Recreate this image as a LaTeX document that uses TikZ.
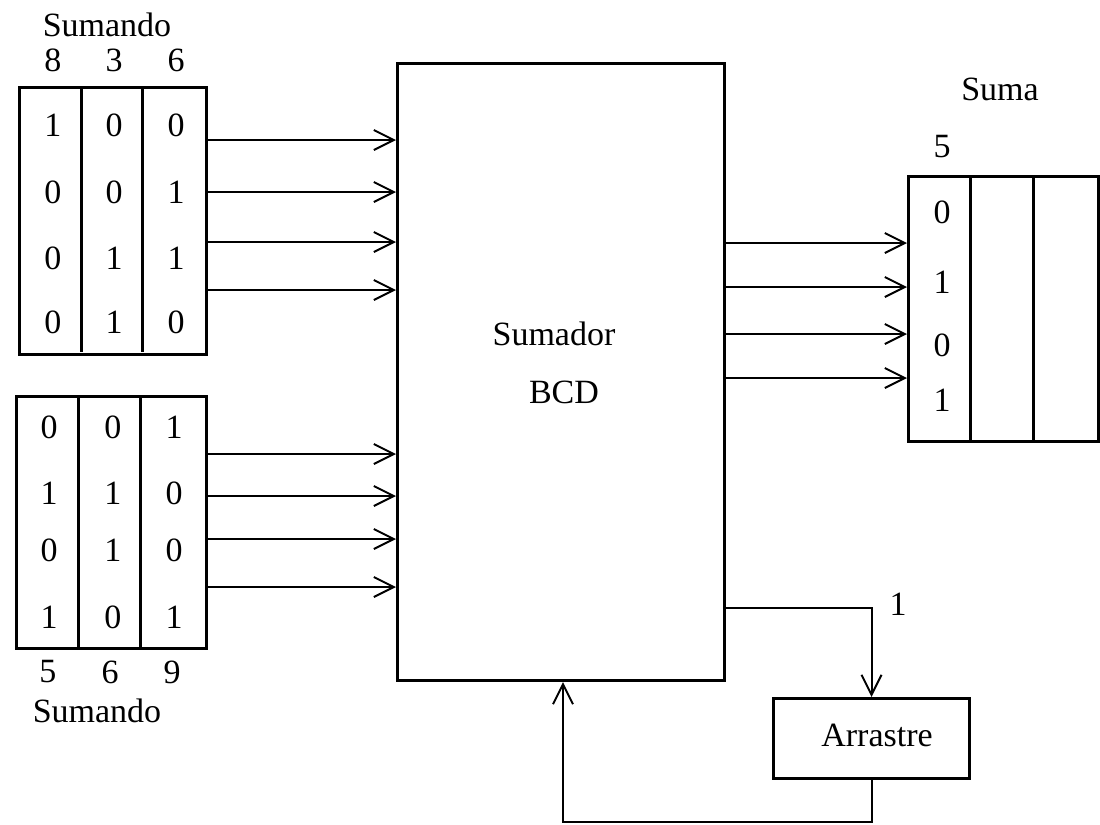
\documentclass[tikz,border=0pt]{standalone}
\usepackage{fontspec}
\setmainfont{Liberation Serif}
\usetikzlibrary{arrows.meta,calc}
\begin{document}
\begin{tikzpicture}[x=0.5pt,y=-0.5pt,
  reg/.style={draw,line width=1.5pt,inner sep=0,anchor=north west},
  div/.style={line width=1.5pt},
  txt/.style={font=\fontsize{17}{20}\selectfont,inner sep=0},
  sig/.style={line width=1pt,-{Straight Barb[length=10pt,width=10pt,line width=1pt]}},
  wire/.style={line width=1pt}]
\useasboundingbox (0,0) rectangle (1100,825);

% top addend register
\node[reg,minimum width=93.5pt,minimum height=133.5pt] (r1) at (18,86) {};
\draw[div] (81,86) -- (81,352);
\draw[div] (142,86) -- (142,352);
\node[txt] (r1t) at (107,25) {Sumando};
\node[txt] (r1a) at (53,60) {8};
\node[txt] (r1b) at (114,60) {3};
\node[txt] (r1c) at (176,60) {6};
\node[txt] at (53,125) {1};  \node[txt] at (114,125) {0}; \node[txt] at (176,125) {0};
\node[txt] at (53,192) {0};  \node[txt] at (114,192) {0}; \node[txt] at (176,192) {1};
\node[txt] at (53,258) {0};  \node[txt] at (114,258) {1}; \node[txt] at (176,258) {1};
\node[txt] at (53,322) {0};  \node[txt] at (114,322) {1}; \node[txt] at (176,322) {0};

% bottom addend register
\node[reg,minimum width=95pt,minimum height=126pt] (r2) at (15,395) {};
\draw[div] (78,395) -- (78,647);
\draw[div] (140,395) -- (140,647);
\node[txt] at (49,427) {0};  \node[txt] at (113,427) {0}; \node[txt] at (174,427) {1};
\node[txt] at (49,493) {1};  \node[txt] at (113,493) {1}; \node[txt] at (174,493) {0};
\node[txt] at (49,550) {0};  \node[txt] at (113,550) {1}; \node[txt] at (174,550) {0};
\node[txt] at (49,617) {1};  \node[txt] at (113,617) {0}; \node[txt] at (174,617) {1};
\node[txt] (r2a) at (48,672) {5};
\node[txt] (r2b) at (110,672) {6};
\node[txt] (r2c) at (172,672) {9};
\node[txt] (r2t) at (97,711) {Sumando};

% adder
\node[reg,minimum width=163.5pt,minimum height=308.5pt] (add) at (396,62) {};
\node[txt] (addt1) at (554,334) {Sumador};
\node[txt] (addt2) at (564,392) {BCD};

% sum register
\node[reg,minimum width=95pt,minimum height=132.5pt] (sum) at (907,175) {};
\draw[div] (970,175) -- (970,440);
\draw[div] (1033,175) -- (1033,440);
\node[txt] (sumt) at (1000,89) {Suma};
\node[txt] (sumd) at (942,147) {5};
\node[txt] at (942,212) {0};
\node[txt] at (942,282) {1};
\node[txt] at (942,345) {0};
\node[txt] at (942,400) {1};

% carry
\node[reg,minimum width=98pt,minimum height=40pt] (arr) at (772,697) {};
\node[txt] (arrt) at (877,735) {Arrastre};
\node[txt] (one) at (898,604) {1};

% input arrows
\foreach \y in {140,192,242,290} \draw[sig] (r1.east |- 0,\y) -- (add.west |- 0,\y);
\foreach \y in {454,496,539,587} \draw[sig] (r2.east |- 0,\y) -- (add.west |- 0,\y);
% output arrows
\foreach \y in {243,287,334,378} \draw[sig] (add.east |- 0,\y) -- (sum.west |- 0,\y);
% carry out
\draw[sig] (add.east |- 0,608) -| (arr.north);
% carry back
\coordinate (back) at (563,822);
\draw[sig] (arr.south) |- (back) -- (add.south -| back);
\end{tikzpicture}
\end{document}
